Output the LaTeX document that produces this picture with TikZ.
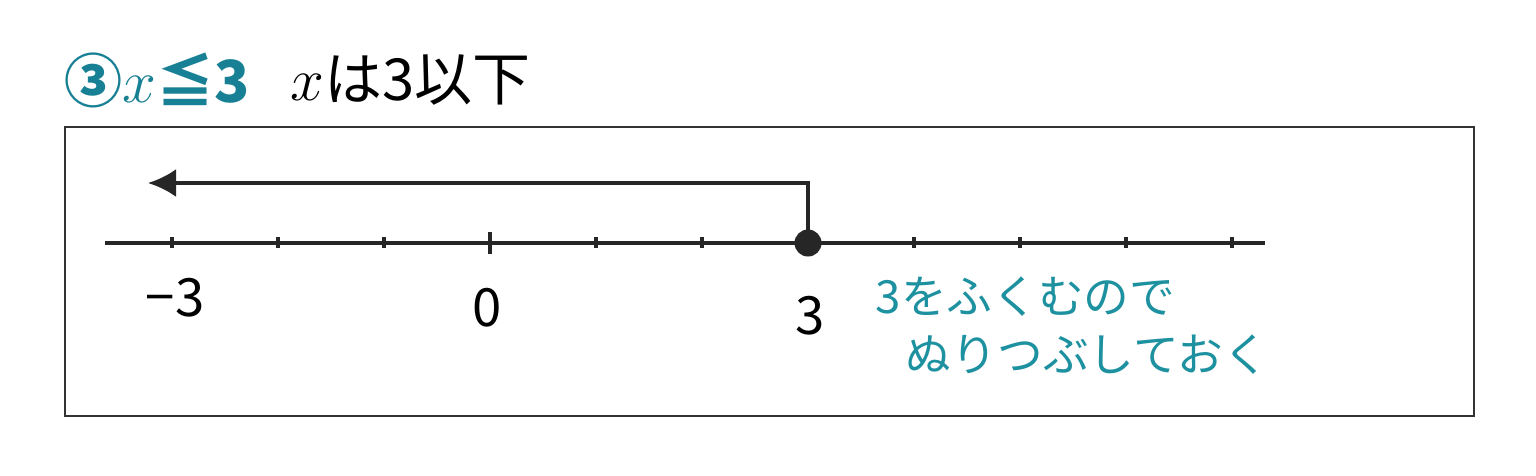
\documentclass[tikz,border=0pt]{standalone}
\usepackage{fontspec}
\usepackage{amsmath}
\usetikzlibrary{arrows.meta}
\newfontfamily\jpfont{Noto Sans CJK JP}
\definecolor{titleteal}{RGB}{24,128,148}
\definecolor{penteal}{RGB}{30,145,160}

\begin{document}
\begin{tikzpicture}[x=1cm,y=1cm]
\useasboundingbox (0,0) rectangle (15.36,4.75);
\node[anchor=west,inner sep=0pt,text=titleteal,font=\jpfont\bfseries\fontsize{16.5}{19}\selectfont] (title) at (0.64,3.95) {③$x$≦3};
\node[anchor=west,inner sep=0pt,font=\jpfont\fontsize{16.5}{19}\selectfont] (reading) at (2.90,3.95) {$x$は3以下};
\draw[line width=0.6pt,black!80] (0.65,0.59) rectangle (14.74,3.48);
% number line
\draw[line width=1.1pt,black!85] (1.05,2.32)--(12.65,2.32);
\foreach \k in {0,...,10}
  \draw[line width=0.9pt,black!85] (1.72+1.06*\k,2.27)--(1.72+1.06*\k,2.38);
\draw[line width=1pt,black!85] (4.90,2.21)--(4.90,2.43);
\node[circle,fill=black!85,inner sep=0pt,minimum size=0.27cm] (dot) at (8.08,2.32) {};
\coordinate (tip) at (1.48,2.92);
\draw[line width=1.1pt,black!85,-{Latex[length=0.28cm,width=0.28cm]}] (dot.center) |- (tip);
\node[font=\jpfont\fontsize{15}{17}\selectfont] (mthree) at (1.75,1.77) {−3};
\node[font=\jpfont\fontsize{15}{17}\selectfont] (zero) at (4.87,1.67) {0};
\node[font=\jpfont\fontsize{15}{17}\selectfont] (three) at (8.10,1.59) {3};
\node[anchor=west,inner sep=0pt,text=penteal,font=\jpfont\fontsize{13}{16}\selectfont] (notea) at (8.75,1.78) {3をふくむので};
\node[anchor=west,inner sep=0pt,text=penteal,font=\jpfont\fontsize{13}{16}\selectfont] (noteb) at (9.05,1.20) {ぬりつぶしておく};
\end{tikzpicture}
\end{document}
